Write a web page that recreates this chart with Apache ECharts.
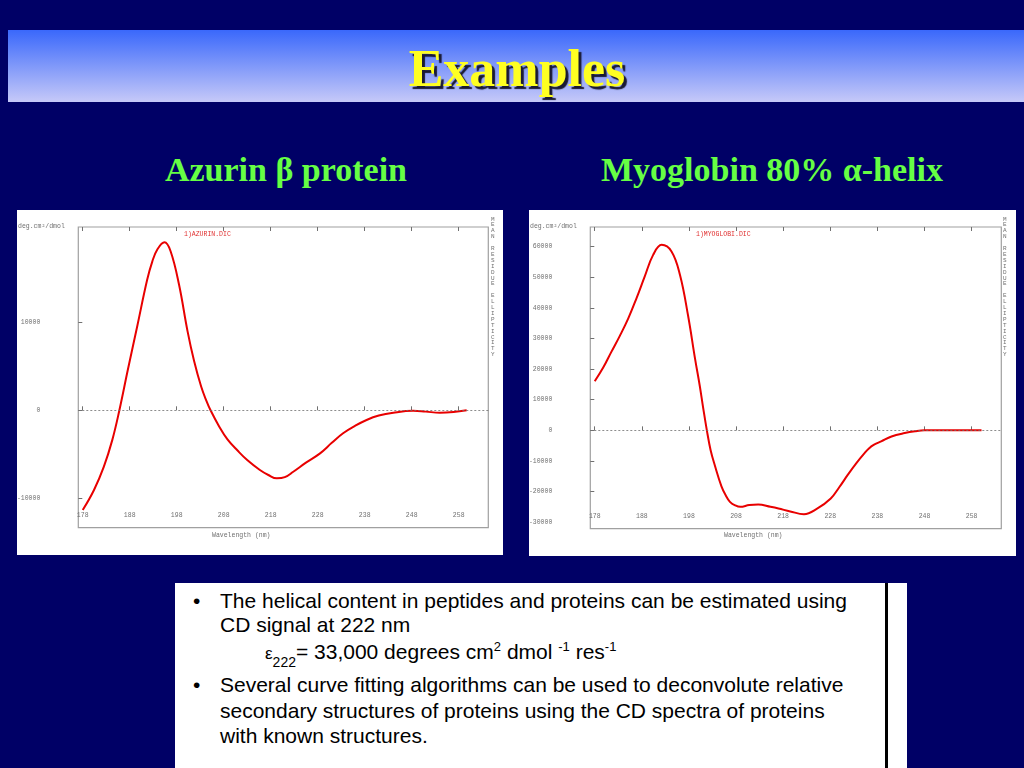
<!DOCTYPE html>
<html>
<head>
<meta charset="utf-8">
<script src="https://cdn.jsdelivr.net/npm/echarts@6/dist/echarts.min.js"></script>
<style>
  html, body { margin: 0; padding: 0; }
  body { width: 1024px; height: 768px; background: #000066; position: relative; overflow: hidden; }
  .abs { position: absolute; white-space: nowrap; }
  #bar { left: 8px; top: 30px; width: 1016px; height: 72px; background: linear-gradient(#3a68fb, #c6c9f8); }
  #title { left: 0; width: 1034px; text-align: center; top: 43px; font: bold 52px/52px "Liberation Serif", serif; color: #ffff22; text-shadow: 3px 3px 1px #1a1a33; }
  .sub { top: 152.5px; font: bold 34px/34px "Liberation Serif", serif; color: #66ff44; text-align: center; width: 500px; }
  .panel { background: #fff; }
  #box { left: 175px; top: 583px; width: 732px; height: 185px; background: #fff; }
  #vline { left: 885px; top: 583px; width: 3px; height: 185px; background: #000; }
  .t { font: 21px/21px "Liberation Sans", Arial, sans-serif; color: #000; }
  sup, sub { font-size: 13px; line-height: 0; }
</style>
</head>
<body>
<div id="bar" class="abs"></div>
<div id="title" class="abs">Examples</div>
<div class="abs sub" style="left:36px;">Azurin β protein</div>
<div class="abs sub" style="left:522px;">Myoglobin 80% α-helix</div>
<div id="chartL" class="abs panel" style="left:17px;top:210px;width:486px;height:345px;"></div>
<div id="chartR" class="abs panel" style="left:529px;top:210px;width:487px;height:346px;"></div>
<div id="box" class="abs"></div>
<div id="vline" class="abs"></div>
<div class="abs t" style="left:193px;top:590px;">•</div>
<div class="abs t" style="left:220px;top:590px;">The helical content in peptides and proteins can be estimated using</div>
<div class="abs t" style="left:220px;top:614px;">CD signal at 222 nm</div>
<div class="abs t" style="left:265px;top:641px;"><span style="font-size:17px">ε</span><sub style="font-size:14px;position:relative;top:3px;">222</sub>= 33,000 degrees cm<sup>2</sup> dmol <sup>-1</sup> res<sup>-1</sup></div>
<div class="abs t" style="left:193px;top:674px;">•</div>
<div class="abs t" style="left:220px;top:674px;">Several curve fitting algorithms can be used to deconvolute relative</div>
<div class="abs t" style="left:220px;top:700px;">secondary structures of proteins using the CD spectra of proteins</div>
<div class="abs t" style="left:220px;top:725px;">with known structures.</div>
<script>
// ---- data ----
var xTicks = [178, 188, 198, 208, 218, 228, 238, 248, 258];

var azurinWl  = [178, 180.4, 182.5, 184.3, 185.8, 187.6, 189.6, 191.7, 192.8, 193.9, 195.4, 196.7, 198.5, 200.3, 201.7, 203.2, 204.3, 205.2, 207, 208.8, 211, 213, 215.7, 217.5, 219.3, 221, 222.8, 225.5, 228.5, 231, 233.4, 236, 238.4, 241, 244.1, 248.3, 251, 254, 256.9, 259.7];
var azurinVal = [-11330, -9050, -6400, -3360, 0, 4600, 9550, 14800, 16900, 18300, 19090, 18070, 14270, 9000, 5600, 2700, 1100, 0, -1800, -3300, -4600, -5650, -6780, -7350, -7730, -7600, -6980, -5950, -4890, -3700, -2610, -1750, -1100, -600, -270, -50, -150, -270, -190, 0];
var azurinYTicks = [-10000, 0, 10000];

var myoWl  = [178, 179.8, 181.5, 183.3, 185.1, 186.9, 188.6, 190.4, 192.2, 194.3, 196.1, 197.8, 199.3, 200.3, 201, 201.8, 202.6, 203.5, 204.9, 205.8, 206.7, 207.8, 208.9, 210.8, 212.7, 215.3, 217, 219.5, 222.4, 225.2, 228.1, 229.9, 231.7, 233.5, 235.2, 236.2, 237.3, 238.8, 241, 243.8, 246, 248, 254, 260.1];
var myoVal = [16020, 20500, 25560, 30800, 36510, 43300, 50230, 57340, 60620, 58450, 50760, 37600, 23360, 14500, 7500, 0, -6500, -11500, -18300, -21200, -23360, -24500, -25000, -24400, -24240, -25000, -25560, -26500, -27400, -25600, -22270, -18600, -14570, -10800, -7600, -5900, -4700, -3620, -2000, -890, -300, 0, 0, 0];
var myoYLabels = [-30000, -20000, -10000, 0, 10000, 20000, 30000, 40000, 50000, 60000];
var myoYTicks = [-20000, -10000, 0, 10000, 20000, 30000, 40000, 50000, 60000];

var vertLabel = 'MEAN RESIDUE ELLIPTICITY';

function pairs(xs, ys) { return xs.map(function (x, i) { return [x, ys[i]]; }); }

function makeChart(id, wl, val, ymin, ymax, yLabels, yTicks, legendText) {
  var chart = echarts.init(document.getElementById(id), null, { renderer: 'canvas' });
  var mono = '"Liberation Mono", "DejaVu Sans Mono", monospace';
  var gray = '#707070';
  var xmin = 177.06, xmax = 264.3;
  chart.setOption({
    animation: false,
    backgroundColor: '#ffffff',
    grid: { left: 61.3, top: 17, right: 14.7, bottom: 27.3, show: true, borderColor: '#a0a0a0', borderWidth: 1.2, backgroundColor: 'transparent', containLabel: false, outerBoundsMode: 'none' },
    xAxis: [
      { type: 'value', min: xmin, max: xmax, position: 'bottom',
        axisLine: { show: false }, splitLine: { show: false },
        axisTick: { show: true, inside: true, length: 4, customValues: xTicks, lineStyle: { color: gray, width: 1 } },
        axisLabel: { show: true, inside: true, margin: 9, customValues: xTicks, fontFamily: mono, fontSize: 6.5, color: gray, formatter: function (v) { return String(v); } } },
      { type: 'value', min: xmin, max: xmax, position: 'top',
        axisLine: { show: false }, splitLine: { show: false },
        axisTick: { show: true, inside: true, length: 4, customValues: xTicks, lineStyle: { color: gray, width: 1 } },
        axisLabel: { show: false } }
    ],
    yAxis: { type: 'value', min: ymin, max: ymax,
      axisLine: { show: false }, splitLine: { show: false },
      axisTick: { show: true, inside: true, length: 4, customValues: yTicks, lineStyle: { color: gray, width: 1 } },
      axisLabel: { show: true, margin: 38, customValues: yLabels, fontFamily: mono, fontSize: 6.5, color: gray, formatter: function (v) { return String(v); } } },
    graphic: [
      { type: 'text', left: 1, top: 13, style: { text: 'deg.cm²/dmol', font: '6.5px ' + mono, fill: gray } },
      { type: 'text', left: 167, top: 21, style: { text: legendText, font: '6.5px ' + mono, fill: '#e03030' } },
      { type: 'text', left: 195, top: 322, style: { text: 'Wavelength (nm)', font: '6.5px ' + mono, fill: gray } },
      { type: 'text', left: 474, top: 6, style: { text: vertLabel.split('').join('\n'), font: '6px ' + mono, lineHeight: 5.9, fill: gray } }
    ],
    series: [{
      type: 'line', xAxisIndex: 0, data: pairs(wl, val), smooth: 0.4, showSymbol: false,
      lineStyle: { color: '#e80000', width: 2 },
      markLine: { silent: true, symbol: ['none', 'none'], label: { show: false },
        lineStyle: { type: [2, 2], color: '#707070', width: 0.8 },
        data: [{ yAxis: 0 }] }
    }]
  });
}

makeChart('chartL', azurinWl, azurinVal, -13340, 20830, azurinYTicks, azurinYTicks, '1)AZURIN.DIC');
makeChart('chartR', myoWl, myoVal, -32140, 66450, myoYLabels, myoYTicks, '1)MYOGLOBI.DIC');
</script>
</body>
</html>
